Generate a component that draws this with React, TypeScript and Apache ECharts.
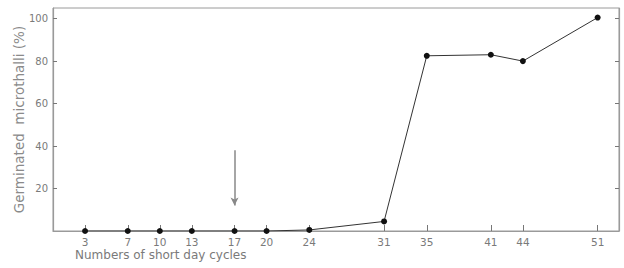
import React, { useEffect, useRef } from "react";
import * as echarts from "echarts";

const cycles = [3, 7, 10, 13, 17, 20, 24, 31, 35, 41, 44, 51];
const germinated = [0, 0, 0, 0, 0, 0, 0.5, 4.5, 82.5, 83, 80, 100.5];
const yTicks = [20, 40, 60, 80, 100];
const arrowAt = 17;
const arrowFrom = 38;
const arrowTo = 12;

export default function App() {
  const ref = useRef<HTMLDivElement>(null);
  useEffect(() => {
    if (!ref.current) return;
    const chart = echarts.init(ref.current, null, { renderer: "svg" });
    const axisColor = "#9a9a9a";
    const labelColor = "#7a7a7a";
    chart.setOption({
      animation: false,
      backgroundColor: "#fff",
      grid: {
        left: 53,
        right: 5,
        top: 8,
        bottom: 37,
        show: true,
        borderColor: axisColor,
        borderWidth: 1,
        containLabel: false,
        outerBoundsMode: "none",
      },
      xAxis: {
        type: "value",
        min: 0,
        max: 53,
        splitLine: { show: false },
        axisLine: { show: true, lineStyle: { color: axisColor, width: 1.2 } },
        axisTick: {
          show: true,
          inside: true,
          length: 6,
          customValues: cycles,
          lineStyle: { color: "#777" },
        },
        axisLabel: {
          customValues: cycles,
          color: labelColor,
          fontFamily: "DejaVu Sans",
          fontSize: 10.5,
          margin: 5,
        },
      },
      yAxis: [
        {
          type: "value",
          min: 0,
          max: 105,
          splitLine: { show: false },
          axisLine: { show: true, lineStyle: { color: axisColor, width: 1.2 } },
          axisTick: {
            show: true,
            inside: true,
            length: 4,
            customValues: yTicks,
            lineStyle: { color: "#777" },
          },
          axisLabel: {
            customValues: yTicks,
            color: labelColor,
            fontFamily: "DejaVu Sans",
            fontSize: 10,
            margin: 5,
          },
          name: "Germinated  microthalli (%)",
          nameLocation: "middle",
          nameRotate: 90,
          nameGap: 27,
          nameMoveOverlap: false,
          nameTextStyle: {
            color: "#8a8a8a",
            fontFamily: "DejaVu Sans",
            fontSize: 13.5,
          },
        },
        {
          type: "value",
          position: "right",
          min: 0,
          max: 105,
          splitLine: { show: false },
          axisLine: { show: true, lineStyle: { color: axisColor, width: 1.2 } },
          axisTick: {
            show: true,
            inside: true,
            length: 4,
            customValues: yTicks,
            lineStyle: { color: "#777" },
          },
          axisLabel: { show: false },
        },
      ],
      graphic: [
        {
          type: "text",
          left: 75,
          top: 249,
          style: {
            text: "Numbers of short day cycles",
            fill: "#7a7a7a",
            font: "12px DejaVu Sans",
          },
        },
      ],
      series: [
        {
          type: "line",
          data: cycles.map((c, i) => [c, germinated[i]]),
          symbol: "circle",
          symbolSize: 6,
          itemStyle: { color: "#111" },
          lineStyle: { color: "#333", width: 1 },
          markLine: {
            silent: true,
            symbol: ["none", "arrow"],
            symbolSize: [6, 8],
            label: { show: false },
            lineStyle: { color: "#888", width: 1.5, type: "solid" },
            data: [
              [
                { coord: [arrowAt, arrowFrom] },
                { coord: [arrowAt, arrowTo] },
              ],
            ],
          },
        },
      ],
    });
    return () => chart.dispose();
  }, []);
  return <div ref={ref} style={{ width: 624, height: 268, position: "absolute", left: 0, top: 0 }} />;
}
